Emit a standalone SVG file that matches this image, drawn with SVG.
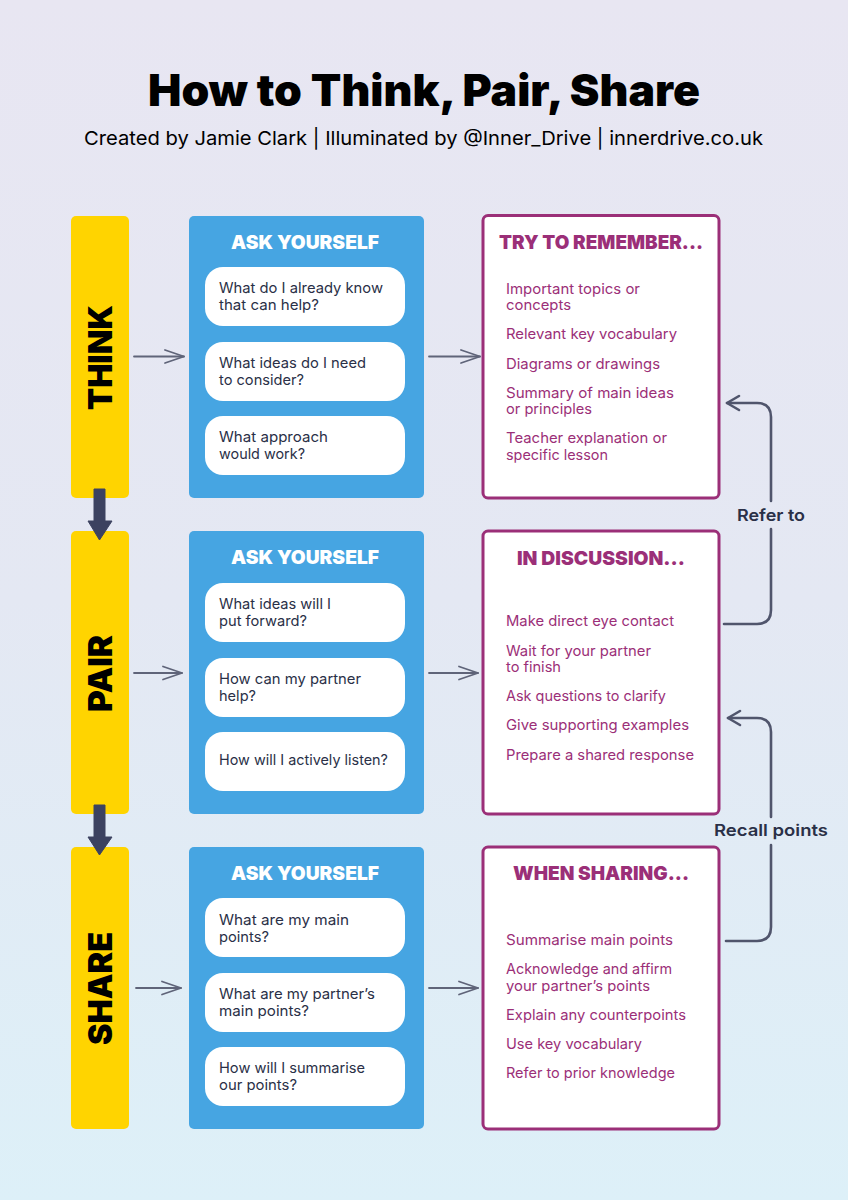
<svg xmlns="http://www.w3.org/2000/svg" width="848" height="1200" viewBox="0 0 848 1200">
<style>
text{font-family:Inter,"Noto Sans","Liberation Sans",sans-serif}
.bar{fill:#FFD400}
.blue{fill:#46A5E2}
.pill{fill:#fff}
.box{fill:#fff;stroke:#9B2F78;stroke-width:3}
.q{font-size:14.5px;font-weight:400;fill:#2A3047}
.p{font-size:14.5px;font-weight:400;fill:#9B2F78}
.ask{font-size:19px;font-weight:900;fill:#fff}
.head{font-size:19px;font-weight:900;fill:#9B2F78}
.v{font-size:33px;font-weight:900;fill:#000}
.lab{font-size:16.5px;font-weight:600;fill:#2A3047}
.thin{fill:none;stroke:#5F6479;stroke-width:1.8;stroke-linecap:round;stroke-linejoin:round}
.side{fill:none;stroke:#50556C;stroke-width:2.6;stroke-linecap:round}
.down{fill:#3C4260;stroke:#3C4260;stroke-width:1;stroke-linejoin:round}
</style>
<defs>
<linearGradient id="bg" x1="0" y1="0" x2="0" y2="1"><stop offset="0" stop-color="#E8E6F2"/><stop offset="0.5" stop-color="#E4E8F3"/><stop offset="1" stop-color="#DDF0F8"/></linearGradient>
<marker id="open" markerUnits="userSpaceOnUse" markerWidth="24" markerHeight="20" refX="21" refY="10" orient="auto"><path d="M2 3.500L21 10L2 16.500" fill="none" stroke="#5F6479" stroke-width="1.800" stroke-linecap="round" stroke-linejoin="round"/></marker>
<marker id="open-side" markerUnits="userSpaceOnUse" markerWidth="20" markerHeight="20" refX="16" refY="10" orient="auto"><path d="M4 3L16 10L4 17" fill="none" stroke="#50556C" stroke-width="2.600" stroke-linecap="round" stroke-linejoin="round"/></marker>
</defs>
<rect id="background" width="848" height="1200" fill="url(#bg)"/>
<g id="title">
<text x="148" y="106" font-size="44" font-weight="900" fill="#000" textLength="552" lengthAdjust="spacingAndGlyphs">How to Think, Pair, Share</text>
<text x="84" y="145" font-size="19" font-weight="400" fill="#000" textLength="679" lengthAdjust="spacingAndGlyphs">Created by Jamie Clark | Illuminated by @Inner_Drive | innerdrive.co.uk</text>
</g>

<g id="think">
<rect class="bar" x="71" y="216" width="58" height="282" rx="5"/>
<text class="v" transform="translate(112 410) rotate(-90)" textLength="105" lengthAdjust="spacingAndGlyphs">THINK</text>
</g>
<g id="pair">
<rect class="bar" x="71" y="531" width="58" height="283" rx="5"/>
<text class="v" transform="translate(112 712) rotate(-90)" textLength="77" lengthAdjust="spacingAndGlyphs">PAIR</text>
</g>
<g id="share">
<rect class="bar" x="71" y="847" width="58" height="282" rx="5"/>
<text class="v" transform="translate(112 1045) rotate(-90)" textLength="113" lengthAdjust="spacingAndGlyphs">SHARE</text>
</g>

<g id="ask-think">
<rect class="blue" x="189" y="216" width="235" height="282" rx="5"/>
<text class="ask" x="231" y="249" textLength="148" lengthAdjust="spacingAndGlyphs">ASK YOURSELF</text>
<rect class="pill" x="205" y="267" width="200" height="59" rx="18"/>
<text class="q" x="219" y="293" textLength="164" lengthAdjust="spacingAndGlyphs">What do I already know</text>
<text class="q" x="219" y="310" textLength="100" lengthAdjust="spacingAndGlyphs">that can help?</text>
<rect class="pill" x="205" y="342" width="200" height="59" rx="18"/>
<text class="q" x="219" y="368" textLength="147" lengthAdjust="spacingAndGlyphs">What ideas do I need</text>
<text class="q" x="219" y="385" textLength="85" lengthAdjust="spacingAndGlyphs">to consider?</text>
<rect class="pill" x="205" y="416" width="200" height="59" rx="18"/>
<text class="q" x="219" y="442" textLength="109" lengthAdjust="spacingAndGlyphs">What approach</text>
<text class="q" x="219" y="459" textLength="86" lengthAdjust="spacingAndGlyphs">would work?</text>
</g>
<g id="ask-pair">
<rect class="blue" x="189" y="531" width="235" height="283" rx="5"/>
<text class="ask" x="231" y="564" textLength="148" lengthAdjust="spacingAndGlyphs">ASK YOURSELF</text>
<rect class="pill" x="205" y="583" width="200" height="59" rx="18"/>
<text class="q" x="219" y="609" textLength="112" lengthAdjust="spacingAndGlyphs">What ideas will I</text>
<text class="q" x="219" y="626" textLength="88" lengthAdjust="spacingAndGlyphs">put forward?</text>
<rect class="pill" x="205" y="658" width="200" height="59" rx="18"/>
<text class="q" x="219" y="684" textLength="142" lengthAdjust="spacingAndGlyphs">How can my partner</text>
<text class="q" x="219" y="701" textLength="37" lengthAdjust="spacingAndGlyphs">help?</text>
<rect class="pill" x="205" y="732" width="200" height="59" rx="18"/>
<text class="q" x="219" y="765" textLength="169" lengthAdjust="spacingAndGlyphs">How will I actively listen?</text>
</g>
<g id="ask-share">
<rect class="blue" x="189" y="847" width="235" height="282" rx="5"/>
<text class="ask" x="231" y="880" textLength="148" lengthAdjust="spacingAndGlyphs">ASK YOURSELF</text>
<rect class="pill" x="205" y="898" width="200" height="59" rx="18"/>
<text class="q" x="219" y="925" textLength="130" lengthAdjust="spacingAndGlyphs">What are my main</text>
<text class="q" x="219" y="942" textLength="50" lengthAdjust="spacingAndGlyphs">points?</text>
<rect class="pill" x="205" y="973" width="200" height="59" rx="18"/>
<text class="q" x="219" y="999" textLength="156" lengthAdjust="spacingAndGlyphs">What are my partner’s</text>
<text class="q" x="219" y="1016" textLength="90" lengthAdjust="spacingAndGlyphs">main points?</text>
<rect class="pill" x="205" y="1047" width="200" height="59" rx="18"/>
<text class="q" x="219" y="1073" textLength="146" lengthAdjust="spacingAndGlyphs">How will I summarise</text>
<text class="q" x="219" y="1090" textLength="78" lengthAdjust="spacingAndGlyphs">our points?</text>
</g>

<g id="remember">
<rect class="box" x="483" y="215.500" width="236" height="282.500" rx="5"/>
<text class="head" x="499" y="249" textLength="204" lengthAdjust="spacingAndGlyphs">TRY TO REMEMBER...</text>
<text class="p" x="506" y="294" textLength="134" lengthAdjust="spacingAndGlyphs">Important topics or</text>
<text class="p" x="506" y="310" textLength="65" lengthAdjust="spacingAndGlyphs">concepts</text>
<text class="p" x="506" y="339" textLength="171" lengthAdjust="spacingAndGlyphs">Relevant key vocabulary</text>
<text class="p" x="506" y="369" textLength="154" lengthAdjust="spacingAndGlyphs">Diagrams or drawings</text>
<text class="p" x="506" y="398" textLength="168" lengthAdjust="spacingAndGlyphs">Summary of main ideas</text>
<text class="p" x="506" y="414" textLength="86" lengthAdjust="spacingAndGlyphs">or principles</text>
<text class="p" x="506" y="443" textLength="161" lengthAdjust="spacingAndGlyphs">Teacher explanation or</text>
<text class="p" x="506" y="460" textLength="102" lengthAdjust="spacingAndGlyphs">specific lesson</text>
</g>
<g id="discussion">
<rect class="box" x="483" y="531" width="236" height="283" rx="5"/>
<text class="head" x="517" y="565" textLength="168" lengthAdjust="spacingAndGlyphs">IN DISCUSSION...</text>
<text class="p" x="506" y="626" textLength="168" lengthAdjust="spacingAndGlyphs">Make direct eye contact</text>
<text class="p" x="506" y="656" textLength="145" lengthAdjust="spacingAndGlyphs">Wait for your partner</text>
<text class="p" x="506" y="672" textLength="55" lengthAdjust="spacingAndGlyphs">to finish</text>
<text class="p" x="506" y="701" textLength="160" lengthAdjust="spacingAndGlyphs">Ask questions to clarify</text>
<text class="p" x="506" y="730" textLength="183" lengthAdjust="spacingAndGlyphs">Give supporting examples</text>
<text class="p" x="506" y="760" textLength="188" lengthAdjust="spacingAndGlyphs">Prepare a shared response</text>
</g>
<g id="sharing">
<rect class="box" x="483" y="847" width="236" height="282" rx="5"/>
<text class="head" x="513" y="880" textLength="176" lengthAdjust="spacingAndGlyphs">WHEN SHARING...</text>
<text class="p" x="506" y="945" textLength="167" lengthAdjust="spacingAndGlyphs">Summarise main points</text>
<text class="p" x="506" y="974" textLength="166" lengthAdjust="spacingAndGlyphs">Acknowledge and affirm</text>
<text class="p" x="506" y="991" textLength="144" lengthAdjust="spacingAndGlyphs">your partner’s points</text>
<text class="p" x="506" y="1020" textLength="180" lengthAdjust="spacingAndGlyphs">Explain any counterpoints</text>
<text class="p" x="506" y="1049" textLength="136" lengthAdjust="spacingAndGlyphs">Use key vocabulary</text>
<text class="p" x="506" y="1078" textLength="169" lengthAdjust="spacingAndGlyphs">Refer to prior knowledge</text>
</g>

<g id="connectors">
<path class="thin" marker-end="url(#open)" d="M134 356.500H184"/>
<path class="thin" marker-end="url(#open)" d="M429 356.500H480"/>
<path class="thin" marker-end="url(#open)" d="M134 673H182"/>
<path class="thin" marker-end="url(#open)" d="M429 673H478"/>
<path class="thin" marker-end="url(#open)" d="M136 988H181"/>
<path class="thin" marker-end="url(#open)" d="M429 988H478"/>
<path class="down" d="M94 489H105V521H112L99.500 540L88 521H94Z"/>
<path class="down" d="M94 805H105V837H112L99.500 855L88 837H94Z"/>
<path class="side" d="M724 624H757Q771 624 771 610V529"/>
<path class="side" marker-end="url(#open-side)" d="M771 501V417Q771 403 757 403H727"/>
<path class="side" d="M726 941H757Q771 941 771 927V845"/>
<path class="side" marker-end="url(#open-side)" d="M771 817V732Q771 718 757 718H728"/>
</g>
<g id="label-refer"><text class="lab" x="737" y="521" textLength="68" lengthAdjust="spacingAndGlyphs">Refer to</text></g>
<g id="label-recall"><text class="lab" x="714" y="836" textLength="114" lengthAdjust="spacingAndGlyphs">Recall points</text></g>
</svg>
